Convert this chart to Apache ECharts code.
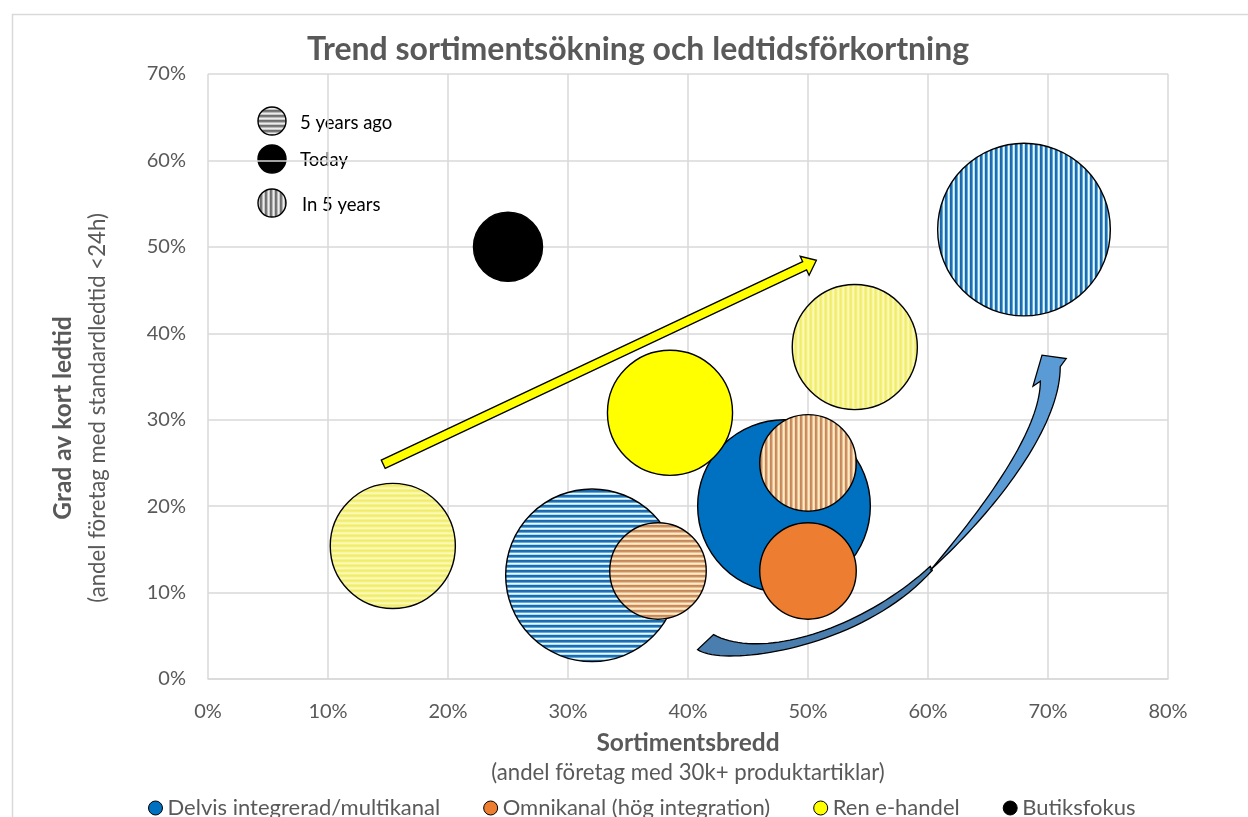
<!DOCTYPE html>
<html>
<head>
<meta charset="utf-8">
<script src="https://cdn.jsdelivr.net/npm/echarts@6/dist/echarts.min.js"></script>
<style>
  html, body { margin: 0; padding: 0; background: #ffffff; }
  #chart { width: 1248px; height: 817px; }
</style>
</head>
<body>
<div id="chart"></div>
<script>
// ---- data -------------------------------------------------------------
const stages = ['5 years ago', 'Today', 'In 5 years'];
const groups = ['Delvis integrerad/multikanal', 'Omnikanal (hög integration)', 'Ren e-handel', 'Butiksfokus'];

// x = Sortimentsbredd (%), y = Grad av kort ledtid (%), size = bubble size
const delvisX = [32, 48, 68];
const delvisY = [12, 20, 52];
const delvisSize = [40, 40, 40];
const delvisStage = [0, 1, 2];

const omniX = [37.5, 50, 50];
const omniY = [12.5, 12.5, 25];
const omniSize = [12.5, 12.5, 12.5];
const omniStage = [0, 1, 2];

const renX = [15.4, 38.5, 53.9];
const renY = [15.4, 30.8, 38.4];
const renSize = [21, 21, 21];
const renStage = [0, 1, 2];

const butikX = [25];
const butikY = [50];
const butikSize = [6.4];
const butikStage = [1];

const xMin = 0, xMax = 80, yMin = 0, yMax = 70, tickStep = 10;

// trend arrow (start, tip) in axis units
const trendArrow = [[14.6, 24.85], [50.7, 48.45]];
// curved arrow outlines in axis units: cubic segments [start, c1, c2, end]
const curvedBackLower = [[40.80, 3.40], [42.86, 1.35], [54.36, 3.32], [60.36, 12.58]];
const curvedBackUpper = [[60.19, 13.04], [54.36, 5.64], [46.03, 2.16], [42.13, 5.14]];
const curvedFrontRight = [[60.36, 12.81], [65.19, 18.95], [71.02, 28.84], [71.02, 36.13]];
const curvedHead = [[71.52, 37.08], [69.50, 37.47], [68.75, 33.88], [69.36, 34.46]];
const curvedFrontLeft = [[69.36, 34.46], [69.36, 28.79], [64.78, 20.10], [60.19, 12.58]];

// ---- styling ---------------------------------------------------------
const FONT = 'Lato, "Liberation Sans", sans-serif';
const TEXT_GREY = '#595959';
const GRID_GREY = '#d9d9d9';

const stripeColors = {
  blue:   ['#1b67a9', '#2070b3', '#5fa8da', '#e9f8fd', '#b4def2'],
  orange: ['#c4875b', '#cb9064', '#e7bd92', '#fdeac6', '#f6d8ad'],
  yellow: ['#f1ed6c', '#f3ef78', '#f9f6a6', '#fbf9b6', '#f6f28a'],
  grey:   ['#6e6e6e', '#7a7a7a', '#b8b8b8', '#ececec', '#c8c8c8']
};

function stripeCanvas(colors, vertical) {
  const n = colors.length;
  const c = document.createElement('canvas');
  c.width = n; c.height = n;
  const ctx = c.getContext('2d');
  for (let i = 0; i < n; i++) {
    ctx.fillStyle = colors[i];
    if (vertical) ctx.fillRect(i, 0, 1, n);
    else ctx.fillRect(0, i, n, 1);
  }
  return c;
}
function pattern(name, vertical) {
  return { image: stripeCanvas(stripeColors[name], vertical), repeat: 'repeat' };
}
const fills = {};
Object.keys(stripeColors).forEach(k => {
  fills[k] = [pattern(k, false), null, pattern(k, true)];
});

const maxSize = Math.max(...delvisSize, ...omniSize, ...renSize, ...butikSize);

function bubbleSeries(name, color, stripe, xs, ys, sizes, stageIdx) {
  const data = xs.map((x, i) => [x, ys[i], sizes[i], stageIdx[i]]);
  return {
    type: 'custom',
    name: name,
    coordinateSystem: 'cartesian2d',
    encode: { x: 0, y: 1 },
    itemStyle: { color: color },
    clip: false,
    data: data,
    renderItem(params, api) {
      const p = api.coord([api.value(0), api.value(1)]);
      const maxR = 0.1427 * params.coordSys.height;
      const r = maxR * Math.sqrt(api.value(2) / maxSize);
      const st = api.value(3);
      const fill = st === 1 ? color : fills[stripe][st];
      return {
        type: 'circle',
        shape: { cx: p[0], cy: p[1], r: r },
        style: { fill: fill, stroke: '#000', lineWidth: 1.4 }
      };
    }
  };
}

// sample a cubic Bézier given in pixel space
function cubic(pts, steps) {
  const out = [];
  for (let i = 0; i <= steps; i++) {
    const t = i / steps, u = 1 - t;
    const a = u * u * u, b = 3 * u * u * t, c = 3 * u * t * t, d = t * t * t;
    out.push([
      a * pts[0][0] + b * pts[1][0] + c * pts[2][0] + d * pts[3][0],
      a * pts[0][1] + b * pts[1][1] + c * pts[2][1] + d * pts[3][1]
    ]);
  }
  return out;
}

function arrowSeries() {
  return {
    type: 'custom',
    name: 'arrows',
    coordinateSystem: 'cartesian2d',
    clip: false,
    silent: true,
    data: [[0, 0]],
    renderItem(params, api) {
      const px = list => list.map(p => api.coord(p));
      // straight trend arrow
      const a = api.coord(trendArrow[0]);
      const b = api.coord(trendArrow[1]);
      const dx = b[0] - a[0], dy = b[1] - a[1];
      const len = Math.hypot(dx, dy);
      const ux = dx / len, uy = dy / len;
      const nx = -uy, ny = ux;
      const w = 4.6, hw = 10.5, hl = 13;
      const bx = b[0] - ux * hl, by = b[1] - uy * hl;
      const straight = [
        [a[0] + nx * w, a[1] + ny * w],
        [bx + nx * w, by + ny * w],
        [bx + nx * hw, by + ny * hw],
        [b[0], b[1]],
        [bx - nx * hw, by - ny * hw],
        [bx - nx * w, by - ny * w],
        [a[0] - nx * w, a[1] - ny * w]
      ];
      // curved arrow
      const back = cubic(px(curvedBackLower), 40).concat(cubic(px(curvedBackUpper), 40));
      const front = cubic(px(curvedFrontRight), 40)
        .concat(px(curvedHead))
        .concat(cubic(px(curvedFrontLeft), 40).slice(1));
      return {
        type: 'group',
        children: [
          { type: 'polygon', shape: { points: straight },
            style: { fill: '#ffff00', stroke: '#000', lineWidth: 1.3, lineJoin: 'miter' } },
          { type: 'polygon', shape: { points: back },
            style: { fill: '#4a7eae', stroke: '#000', lineWidth: 1.3 } },
          { type: 'polygon', shape: { points: front },
            style: { fill: '#5b9bd5', stroke: '#000', lineWidth: 1.3, lineJoin: 'miter' } }
        ]
      };
    }
  };
}

// small legend explaining the fill patterns
function stageLegend() {
  const rows = [
    { fill: fills.grey[0], y: 121, ty: 123, tx: 300 },
    { fill: '#000000', y: 159, ty: 160, tx: 300 },
    { fill: fills.grey[2], y: 203, ty: 205, tx: 302 }
  ];
  const children = [];
  rows.forEach((r, i) => {
    children.push({ type: 'circle', shape: { cx: 272, cy: r.y, r: 14 },
      style: { fill: r.fill, stroke: '#000', lineWidth: 1.4 } });
    children.push({ type: 'text', x: r.tx, y: r.ty,
      style: { text: stages[i], fill: '#000', font: '18.5px ' + FONT, textVerticalAlign: 'middle' } });
  });
  return { type: 'group', z: 10, children: children };
}

const chart = echarts.init(document.getElementById('chart'), null, { renderer: 'canvas' });

chart.setOption({
  backgroundColor: '#ffffff',
  animation: false,
  title: {
    text: 'Trend sortimentsökning och ledtidsförkortning',
    left: 307, top: 34, padding: 0,
    textStyle: { color: TEXT_GREY, fontFamily: FONT, fontWeight: 'bold', fontSize: 32 }
  },
  grid: { left: 208, right: 80, top: 74, bottom: 138 },
  xAxis: {
    type: 'value', min: xMin, max: xMax, interval: tickStep,
    axisLine: { show: true, lineStyle: { color: GRID_GREY, width: 1.5 } },
    axisTick: { show: false },
    splitLine: { show: true, lineStyle: { color: GRID_GREY, width: 1.5 } },
    axisLabel: { formatter: '{value}%', color: TEXT_GREY, fontFamily: FONT, fontSize: 20, margin: 23 }
  },
  yAxis: {
    type: 'value', min: yMin, max: yMax, interval: tickStep,
    axisLine: { show: false },
    axisTick: { show: false },
    splitLine: { show: true, lineStyle: { color: GRID_GREY, width: 1.5 } },
    axisLabel: { formatter: '{value}%', color: TEXT_GREY, fontFamily: FONT, fontSize: 20, margin: 22 }
  },
  legend: {
    data: groups,
    left: 143, top: 792,
    icon: 'circle', itemWidth: 14, itemHeight: 14, itemGap: 43,
    itemStyle: { borderColor: '#000', borderWidth: 1 },
    textStyle: { color: TEXT_GREY, fontFamily: FONT, fontSize: 22 }
  },
  graphic: [
    { type: 'rect', z: -1, silent: true, shape: { x: 12.5, y: 14.5, width: 1300, height: 900 },
      style: { fill: 'none', stroke: GRID_GREY, lineWidth: 1.5 } },
    { type: 'text', x: 688, y: 743, style: { text: 'Sortimentsbredd', fill: TEXT_GREY,
      font: 'bold 24.5px ' + FONT, textAlign: 'center', textVerticalAlign: 'middle' } },
    { type: 'text', x: 688, y: 773, style: { text: '(andel företag med 30k+ produktartiklar)', fill: TEXT_GREY,
      font: '22.2px ' + FONT, textAlign: 'center', textVerticalAlign: 'middle' } },
    { type: 'text', x: 63, y: 418, rotation: Math.PI / 2, style: { text: 'Grad av kort ledtid', fill: TEXT_GREY,
      font: 'bold 24.5px ' + FONT, textAlign: 'center', textVerticalAlign: 'middle' } },
    { type: 'text', x: 98, y: 408, rotation: Math.PI / 2, style: { text: '(andel företag med standardledtid <24h)', fill: TEXT_GREY,
      font: '22.2px ' + FONT, textAlign: 'center', textVerticalAlign: 'middle' } },
    stageLegend()
  ],
  series: [
    arrowSeries(),
    bubbleSeries(groups[0], '#0070c0', 'blue', delvisX, delvisY, delvisSize, delvisStage),
    bubbleSeries(groups[1], '#ed7d31', 'orange', omniX, omniY, omniSize, omniStage),
    bubbleSeries(groups[2], '#ffff00', 'yellow', renX, renY, renSize, renStage),
    bubbleSeries(groups[3], '#000000', 'grey', butikX, butikY, butikSize, butikStage)
  ]
});
</script>
</body>
</html>
